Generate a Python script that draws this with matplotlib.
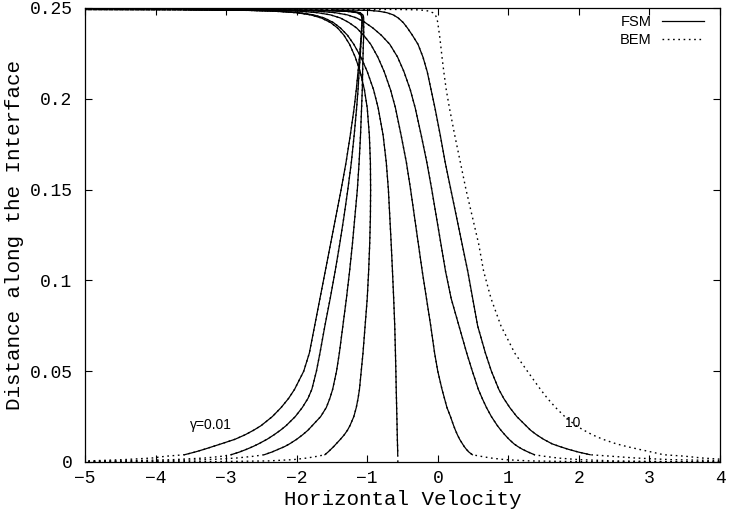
import matplotlib
matplotlib.use("Agg")
import matplotlib.pyplot as plt
from matplotlib.ticker import FuncFormatter

# distance along the interface (shared by all curves)
y_grid = [0.004, 0.0055, 0.007, 0.0085, 0.01, 0.0125, 0.015, 0.0175, 0.02, 0.025,
          0.03, 0.035, 0.04, 0.05, 0.06, 0.075, 0.09, 0.105, 0.12, 0.135,
          0.15, 0.165, 0.18, 0.195, 0.205, 0.215, 0.223, 0.23, 0.235, 0.239,
          0.242, 0.2445, 0.2462, 0.2474, 0.2482, 0.2487, 0.249, 0.2492, 0.2494]

# horizontal velocity, one list per gamma (gamma=0.01 first, gamma=10 last)
vel_1 = [-3.59, -3.44, -3.31, -3.19, -3.07, -2.875, -2.73, -2.61, -2.505, -2.345,
         -2.22, -2.115, -2.03, -1.90, -1.82, -1.745, -1.67, -1.595, -1.52, -1.445,
         -1.37, -1.30, -1.24, -1.185, -1.155, -1.13, -1.11, -1.095, -1.085, -1.08,
         -1.075, -1.075, -1.09, -1.14, -1.30, -1.7, -3.0, -5.0, -6.0]
vel_2 = [-2.93, -2.81, -2.71, -2.62, -2.54, -2.42, -2.32, -2.23, -2.15, -2.02,
         -1.92, -1.84, -1.785, -1.72, -1.67, -1.60, -1.525, -1.455, -1.39, -1.33,
         -1.275, -1.225, -1.185, -1.15, -1.13, -1.115, -1.10, -1.09, -1.08, -1.075,
         -1.07, -1.07, -1.08, -1.12, -1.25, -1.6, -2.9, -5.0, -6.0]
vel_3 = [-2.46, -2.35, -2.26, -2.17, -2.10, -2.00, -1.915, -1.84, -1.78, -1.66,
         -1.58, -1.53, -1.49, -1.435, -1.395, -1.345, -1.295, -1.25, -1.21, -1.175,
         -1.14, -1.115, -1.095, -1.08, -1.07, -1.065, -1.06, -1.055, -1.05, -1.05,
         -1.05, -1.05, -1.06, -1.10, -1.22, -1.5, -2.8, -5.0, -6.0]
vel_4 = [-1.60, -1.555, -1.515, -1.475, -1.44, -1.38, -1.325, -1.28, -1.245, -1.19,
         -1.155, -1.13, -1.11, -1.085, -1.06, -1.03, -1.0, -0.98, -0.965, -0.955,
         -0.952, -0.955, -0.97, -1.0, -1.04, -1.10, -1.17, -1.25, -1.33, -1.42,
         -1.52, -1.65, -1.80, -2.0, -2.3, -2.7, -3.6, -5.0, -6.0]
vel_5 = [-0.568, -0.568, -0.569, -0.57, -0.571, -0.573, -0.574, -0.576, -0.577, -0.58,
         -0.583, -0.586, -0.589, -0.594, -0.60, -0.61, -0.625, -0.642, -0.66, -0.68,
         -0.70, -0.73, -0.775, -0.845, -0.91, -1.0, -1.09, -1.19, -1.28, -1.38,
         -1.48, -1.61, -1.76, -1.96, -2.25, -2.65, -3.5, -5.0, -6.0]
vel_6 = [0.49, 0.44, 0.405, 0.375, 0.35, 0.31, 0.278, 0.25, 0.225, 0.18,
         0.13, 0.095, 0.06, 0.0, -0.045, -0.10, -0.16, -0.22, -0.275, -0.33,
         -0.385, -0.445, -0.52, -0.60, -0.67, -0.76, -0.85, -0.95, -1.05, -1.15,
         -1.26, -1.38, -1.52, -1.70, -1.95, -2.3, -3.2, -5.0, -6.0]
vel_7 = [1.37, 1.28, 1.20, 1.135, 1.08, 1.01, 0.95, 0.895, 0.845, 0.76,
         0.69, 0.63, 0.575, 0.49, 0.41, 0.30, 0.19, 0.11, 0.045, -0.02,
         -0.085, -0.155, -0.235, -0.32, -0.39, -0.48, -0.57, -0.68, -0.80, -0.92,
         -1.03, -1.15, -1.28, -1.45, -1.68, -2.0, -2.9, -5.0, -6.0]
vel_8 = [2.16, 1.99, 1.85, 1.73, 1.62, 1.50, 1.40, 1.315, 1.25, 1.12,
         1.02, 0.935, 0.865, 0.76, 0.675, 0.565, 0.495, 0.425, 0.345, 0.265,
         0.185, 0.105, 0.035, -0.04, -0.095, -0.15, -0.21, -0.28, -0.36, -0.43,
         -0.49, -0.56, -0.63, -0.72, -0.83, -0.98, -1.5, -5.0, -6.0]
vel_9 = [3.20, 3.03, 2.85, 2.68, 2.53, 2.34, 2.19, 2.07, 1.96, 1.80,
         1.67, 1.555, 1.455, 1.27, 1.09, 0.895, 0.755, 0.65, 0.58, 0.49,
         0.40, 0.32, 0.24, 0.165, 0.12, 0.085, 0.06, 0.04, 0.025, 0.01,
         0.0, -0.015, -0.035, -0.07, -0.12, -0.18, -0.3, -0.6, -6.0]

# BEM continues below the last FSM point
y_tail = [0.0032, 0.0022, 0.0013, 0.0006, 0.0002, 0.0]
tail_1 = [-3.85, -4.05, -4.45, -4.95, -5.6, -6.0]
tail_2 = [-3.05, -3.3, -3.75, -4.5, -5.5, -6.0]
tail_3 = [-2.6, -2.85, -3.25, -3.9, -5.2, -6.0]
tail_4 = [-1.7, -1.85, -2.05, -2.4, -3.2, -6.0]
tail_5 = [-0.567, -0.567, -0.567, -0.566, -0.566, -0.566]
tail_6 = [0.6, 0.75, 0.95, 1.3, 2.0, 6.0]
tail_7 = [1.5, 1.7, 2.0, 2.5, 3.3, 6.0]
tail_8 = [2.45, 2.8, 3.3, 4.2, 5.0, 6.0]
tail_9 = [3.5, 3.75, 4.1, 4.8, 5.5, 6.0]

fsm_curves = [vel_1, vel_2, vel_3, vel_4, vel_5, vel_6, vel_7, vel_8]
bem_curves = [vel_1, vel_2, vel_3, vel_4, vel_5, vel_6, vel_7, vel_8, vel_9]
bem_tails = [tail_1, tail_2, tail_3, tail_4, tail_5, tail_6, tail_7, tail_8, tail_9]

mono = ["Liberation Mono", "DejaVu Sans Mono"]
sans = ["Liberation Sans", "DejaVu Sans"]
plt.rcParams["font.family"] = mono
plt.rcParams["axes.unicode_minus"] = True

fig = plt.figure(figsize=(7.29, 5.17), dpi=100)
ax = fig.add_axes([85 / 729, 55 / 517, 635 / 729, 454 / 517])

for i, (vel, tail) in enumerate(zip(bem_curves, bem_tails)):
    xs = tail[::-1] + vel
    ys = y_tail[::-1] + y_grid
    ax.plot(xs, ys, color="black", lw=1.0, ls=(0, (1.2, 2.6)),
            label="BEM" if i == 0 else None)
for i, vel in enumerate(fsm_curves):
    ax.plot(vel[:-2], y_grid[:-2], color="black", lw=0.9,
            label="FSM" if i == 0 else None)

ax.text(-3.51, 0.0204, "γ=0.01", ha="left", va="center", fontsize=10, family=sans)
ax.text(1.80, 0.0215, "10", ha="left", va="center", fontsize=10, family=sans)

ax.set_xlim(-5, 4)
ax.set_ylim(0, 0.25)
ax.set_xticks(range(-5, 5))
ax.set_yticks([0, 0.05, 0.1, 0.15, 0.2, 0.25])
ax.xaxis.set_major_formatter(FuncFormatter(lambda v, p: ("%g" % v).replace("-", "\u2212")))
ax.yaxis.set_major_formatter(FuncFormatter(lambda v, p: "%g" % v))
ax.tick_params(direction="in", length=5, width=0.8, top=True, right=True,
               labelsize=13)
ax.tick_params(axis="x", pad=6)
ax.tick_params(axis="y", pad=9)
for s in ax.spines.values():
    s.set_linewidth(0.9)

ax.set_xlabel("Horizontal Velocity", fontsize=15, labelpad=2)
ax.set_ylabel("Distance along the Interface", fontsize=15, labelpad=4)

h, l = ax.get_legend_handles_labels()
order = [l.index("FSM"), l.index("BEM")]
ax.legend([h[k] for k in order], [l[k] for k in order], loc="upper right",
          bbox_to_anchor=(0.975, 0.985), frameon=False, markerfirst=False,
          handlelength=2.9, handletextpad=0.7, labelspacing=0.3,
          borderpad=0, borderaxespad=0, prop={"family": sans, "size": 10.5})

plt.savefig("out.png", dpi=100)
